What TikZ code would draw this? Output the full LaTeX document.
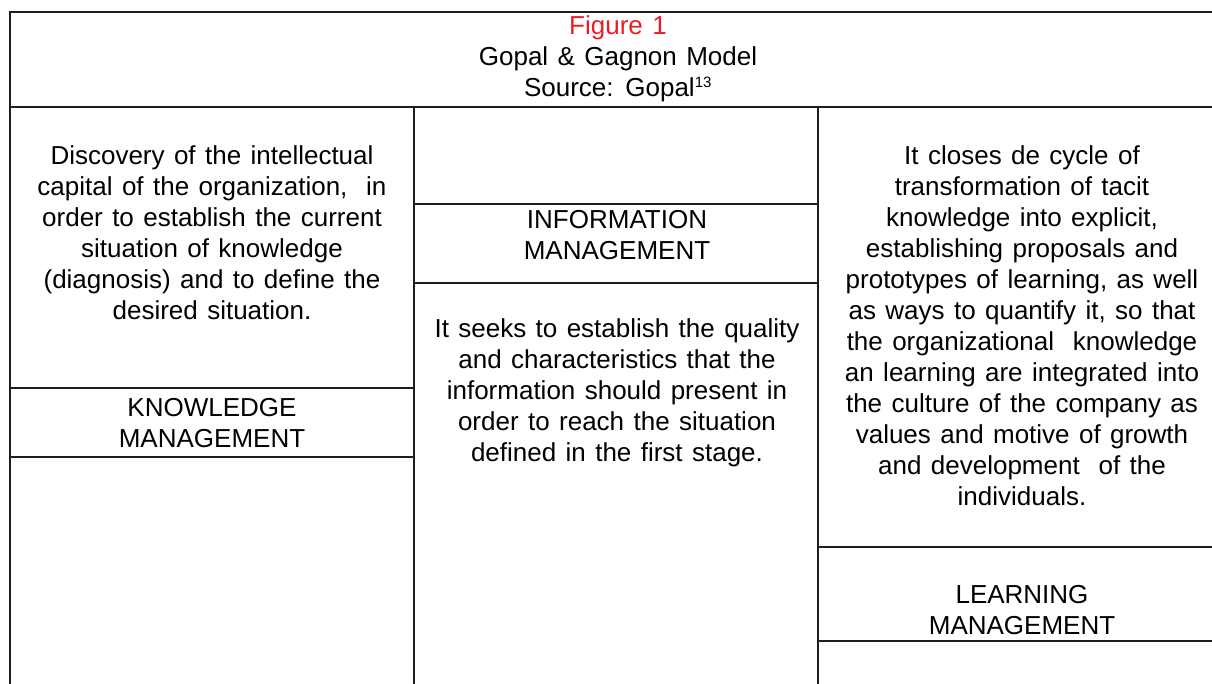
\documentclass[tikz,border=0pt]{standalone}
\usepackage{fontspec}
\setmainfont[WordSpace=1.3]{Liberation Sans}
\definecolor{figred}{RGB}{237,28,36}
\definecolor{rule}{RGB}{30,30,30}
\begin{document}
\begin{tikzpicture}[x=1pt,y=-1pt,
  frame/.style={draw=rule,line width=1.6pt},
  txt/.style={inner sep=0pt,align=center,font=\fontsize{26}{31}\selectfont}]
\useasboundingbox (0,0) rectangle (1212,684);

% outer frame (top and left) and header rule
\draw[frame] (10,684) -- (10,12) -- (1212,12);
\draw[frame] (10,107) -- (1212,107);
% column dividers
\draw[frame] (414,107) -- (414,684);
\draw[frame] (818,107) -- (818,684);

% stage boxes
\draw[frame] (10,388) rectangle (414,457);
\draw[frame] (414,204) rectangle (818,283);
\draw[frame] (818,547) -- (1212,547);
\draw[frame] (818,641) -- (1212,641);

% header
\node[txt] (title) at (618,59) {{\color{figred}Figure 1}\\Gopal \& Gagnon Model\\Source: Gopal\textsuperscript{\fontsize{15}{15}\selectfont 13}};

% left column
\node[txt] (kdesc) at (212,232.5) {Discovery of the intellectual\\capital of the organization,\ \ in\\order to establish the current\\situation of knowledge\\(diagnosis) and to define the\\desired situation.};
\node[txt] (km) at (212,423.5) {KNOWLEDGE\\MANAGEMENT};

% middle column
\node[txt] (im) at (617,235) {INFORMATION\\MANAGEMENT};
\node[txt] (idesc) at (617,392.5) {It seeks to establish the quality\\and characteristics that the\\information should present in\\order to reach the situation\\defined in the first stage.};

% right column
\node[txt] (ldesc) at (1022,326) {It closes de cycle of\\transformation of tacit\\knowledge into explicit,\\establishing proposals and\\prototypes of learning, as well\\as ways to quantify it, so that\\the organizational\ \ knowledge\\an learning are integrated into\\the culture of the company as\\values and motive of growth\\and development\ \ of the\\individuals.};
\node[txt] (lm) at (1022,610) {LEARNING\\MANAGEMENT};
\end{tikzpicture}
\end{document}
